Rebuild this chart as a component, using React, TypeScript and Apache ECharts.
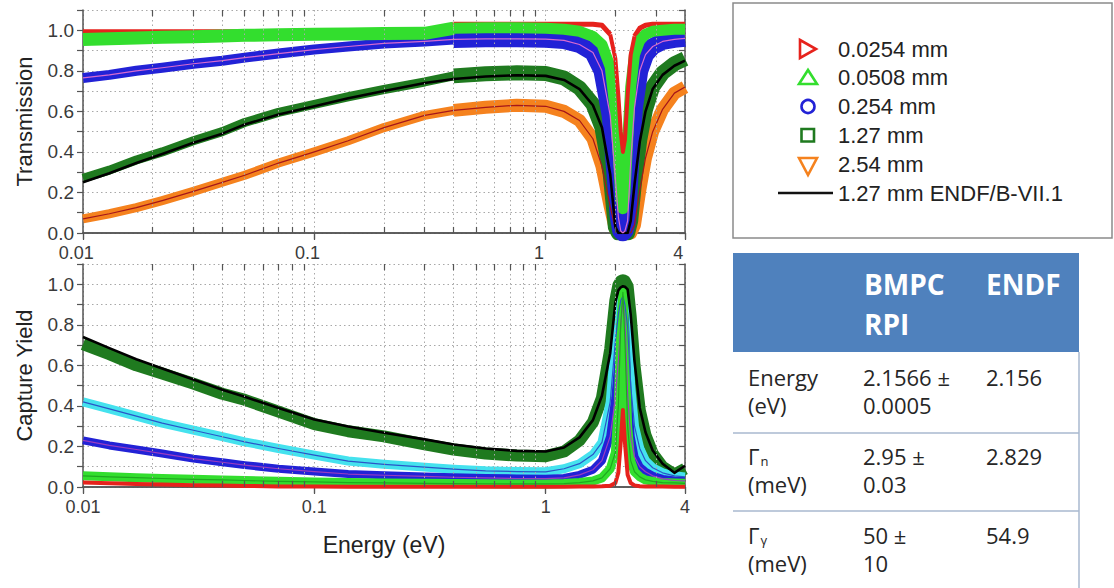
import React, { useEffect, useRef } from "react";
import * as echarts from "echarts";

// ---------- data ----------
const ENERGY = [0.01, 0.013, 0.017, 0.022, 0.03, 0.04, 0.05, 0.07, 0.1, 0.14, 0.2, 0.3, 0.4, 0.55, 0.75, 1.0, 1.2, 1.4, 1.6, 1.75, 1.9, 2.0, 2.06, 2.11, 2.156, 2.2, 2.26, 2.33, 2.42, 2.55, 2.7, 2.9, 3.2, 3.6, 4.0];

// Transmission
const T_0254 = [0.995, 0.995, 0.995, 0.995, 0.995, 0.995, 0.995, 0.995, 0.995, 0.995, 0.995, 0.995, 1.03, 1.03, 1.03, 1.03, 1.03, 1.03, 1.03, 1.025, 0.98, 0.86, 0.68, 0.5, 0.4, 0.46, 0.68, 0.88, 0.97, 1.01, 1.025, 1.03, 1.03, 1.03, 1.03];
const T_0508 = [0.955, 0.958, 0.962, 0.965, 0.968, 0.972, 0.975, 0.978, 0.98, 0.982, 0.984, 0.985, 1.01, 1.012, 1.012, 1.01, 1.005, 0.995, 0.97, 0.93, 0.82, 0.6, 0.38, 0.18, 0.12, 0.2, 0.45, 0.72, 0.88, 0.95, 0.98, 0.995, 1.0, 1.005, 1.005];
const T_254UM = [0.765, 0.78, 0.8, 0.815, 0.835, 0.85, 0.865, 0.885, 0.905, 0.92, 0.935, 0.945, 0.955, 0.958, 0.958, 0.956, 0.95, 0.93, 0.89, 0.8, 0.58, 0.27, 0.08, 0.01, 0.0, 0.01, 0.06, 0.35, 0.62, 0.8, 0.88, 0.92, 0.945, 0.955, 0.96];
const T_127 = [0.27, 0.31, 0.36, 0.4, 0.455, 0.5, 0.545, 0.595, 0.635, 0.672, 0.708, 0.745, 0.775, 0.785, 0.79, 0.787, 0.765, 0.715, 0.635, 0.52, 0.29, 0.03, 0, 0, 0, 0, 0, 0.06, 0.25, 0.46, 0.61, 0.72, 0.79, 0.835, 0.86];
const T_ENDF = [0.25, 0.295, 0.345, 0.39, 0.445, 0.49, 0.535, 0.585, 0.625, 0.665, 0.7, 0.74, 0.76, 0.772, 0.778, 0.775, 0.755, 0.71, 0.63, 0.52, 0.29, 0.03, 0, 0, 0, 0, 0, 0.06, 0.24, 0.45, 0.6, 0.71, 0.78, 0.825, 0.85];
const T_254 = [0.07, 0.095, 0.125, 0.16, 0.205, 0.25, 0.285, 0.345, 0.4, 0.455, 0.52, 0.58, 0.605, 0.62, 0.63, 0.625, 0.6, 0.555, 0.465, 0.33, 0.13, 0.02, 0, 0, 0, 0, 0, 0, 0.04, 0.21, 0.37, 0.5, 0.61, 0.69, 0.72];

// Capture yield
const Y_127 = [0.705, 0.655, 0.6, 0.56, 0.51, 0.46, 0.43, 0.372, 0.31, 0.275, 0.25, 0.21, 0.185, 0.165, 0.155, 0.152, 0.175, 0.23, 0.32, 0.44, 0.68, 0.92, 0.995, 1.015, 1.02, 1.015, 0.99, 0.84, 0.6, 0.38, 0.255, 0.165, 0.1, 0.062, 0.09];
const Y_ENDF = [0.74, 0.685, 0.63, 0.585, 0.53, 0.48, 0.445, 0.39, 0.333, 0.298, 0.268, 0.235, 0.21, 0.19, 0.178, 0.175, 0.195, 0.245, 0.33, 0.45, 0.66, 0.91, 0.97, 0.985, 0.99, 0.988, 0.975, 0.85, 0.62, 0.39, 0.27, 0.18, 0.115, 0.07, 0.105];
const Y_CYAN = [0.42, 0.385, 0.35, 0.315, 0.28, 0.248, 0.223, 0.19, 0.157, 0.128, 0.112, 0.098, 0.088, 0.08, 0.076, 0.075, 0.09, 0.115, 0.16, 0.22, 0.42, 0.72, 0.85, 0.92, 0.94, 0.9, 0.79, 0.5, 0.3, 0.19, 0.13, 0.095, 0.07, 0.055, 0.05];
const Y_254UM = [0.23, 0.205, 0.185, 0.165, 0.14, 0.122, 0.108, 0.09, 0.076, 0.064, 0.058, 0.052, 0.048, 0.045, 0.042, 0.041, 0.045, 0.06, 0.085, 0.13, 0.25, 0.44, 0.62, 0.8, 0.92, 0.82, 0.45, 0.25, 0.15, 0.1, 0.075, 0.055, 0.04, 0.032, 0.03];
const Y_0508 = [0.055, 0.05, 0.046, 0.042, 0.038, 0.035, 0.032, 0.028, 0.025, 0.022, 0.02, 0.018, 0.017, 0.016, 0.015, 0.015, 0.017, 0.022, 0.03, 0.045, 0.09, 0.17, 0.4, 0.8, 0.96, 0.72, 0.3, 0.13, 0.075, 0.05, 0.035, 0.028, 0.022, 0.02, 0.018];
const Y_0254 = [0.022, 0.018, 0.015, 0.012, 0.009, 0.007, 0.005, 0.003, 0.002, 0.001, 0.001, 0.001, 0.001, 0.001, 0.001, 0.001, 0.001, 0.002, 0.003, 0.004, 0.006, 0.02, 0.07, 0.22, 0.38, 0.22, 0.06, 0.02, 0.008, 0.004, 0.003, 0.002, 0.002, 0.001, 0.001];

const MINOR_E = [0.02, 0.03, 0.04, 0.05, 0.06, 0.07, 0.08, 0.09, 0.2, 0.3, 0.4, 0.5, 0.6, 0.7, 0.8, 0.9, 2, 3];

const LEGEND_LABELS = ["0.0254 mm", "0.0508 mm", "0.254 mm", "1.27 mm", "2.54 mm", "1.27 mm ENDF/B-VII.1"];
const TABLE_HEADER = ["BMPC", "RPI", "ENDF"];
const TABLE_ROWS = [
  { name: "Energy", unit: "(eV)", sub: "", v1: "2.1566 ±", v2: "0.0005", endf: "2.156" },
  { name: "Γ", unit: "(meV)", sub: "n", v1: "2.95 ±", v2: "0.03", endf: "2.829" },
  { name: "Γ", unit: "(meV)", sub: "γ", v1: "50 ±", v2: "10", endf: "54.9" },
];

// ---------- colours ----------
const C_RED = "#e6221c";
const C_GREEN = "#33de2e";
const C_BLUE = "#2222d6";
const C_DKGREEN = "#1f7a1f";
const C_ORANGE = "#f5821e";
const C_CYAN = "#45e2ee";
const AXIS = "#555555";
const FONT = "Liberation Sans, Arial, sans-serif";
const TFONT = "Open Sans, Noto Sans, sans-serif";

const I_SPLIT = ENERGY.indexOf(0.4);
const I_DIP_A = ENERGY.indexOf(1.9);
const I_DIP_B = ENERGY.indexOf(2.42);

function pts(vals: number[], from = 0, to = ENERGY.length - 1) {
  const out: [number, number][] = [];
  for (let i = from; i <= to; i++) out.push([ENERGY[i], vals[i]]);
  return out;
}

function band(vals: number[], color: string, width: number, gi: number, from?: number, to?: number, z = 3) {
  return {
    type: "line",
    xAxisIndex: gi * 2,
    yAxisIndex: gi * 2,
    data: pts(vals, from, to),
    symbol: "none",
    showSymbol: false,
    silent: true,
    clip: true,
    z,
    lineStyle: { color, width, cap: "butt", join: "round" },
  };
}

function decor(gi: number) {
  const tickStyle = { type: "solid", color: AXIS, width: 1.2 };
  return {
    type: "line",
    xAxisIndex: gi * 2,
    yAxisIndex: gi * 2,
    data: [],
    silent: true,
    z: 1,
    markLine: {
      silent: true,
      symbol: ["none", "none"],
      label: { show: false },
      lineStyle: { color: "#a8a8a8", type: [1.5, 3], width: 1 },
      data: [
        ...MINOR_E.map((e) => ({ xAxis: e })),
        ...MINOR_E.map((e) => [{ coord: [e, 0], lineStyle: tickStyle }, { coord: [e, 0.03] }]),
        ...MINOR_E.map((e) => [{ coord: [e, 1.1], lineStyle: tickStyle }, { coord: [e, 1.07] }]),
      ],
    },
  };
}

function fmtE(v: number) {
  return String(parseFloat(Number(v).toPrecision(4)));
}
function fmtEShift(v: number) {
  // figure space + thin space: nudges the centred label slightly left, as in the source
  return fmtE(v) + "\u2007\u2009";
}
function fmtY(v: number) {
  const k = Math.round(v * 10);
  return k % 2 === 0 && k <= 10 ? (k / 10).toFixed(1) : "";
}

function xAxes(gi: number, withName: boolean, shift: boolean) {
  return [
    {
      type: "log",
      gridIndex: gi,
      min: 0.01,
      max: 4,
      logBase: 10,
      position: "bottom",
      axisLine: { show: true, lineStyle: { color: AXIS, width: 1.5 } },
      axisTick: { show: true, inside: false, length: 7, lineStyle: { color: AXIS, width: 1.2 } },
      axisLabel: {
        fontSize: 18,
        color: "#3a3a3a",
        fontFamily: FONT,
        margin: 11,
        formatter: shift ? fmtEShift : fmtE,
      },
      splitLine: { show: true, lineStyle: { color: "#a8a8a8", type: [1.5, 3], width: 1 } },
      name: withName ? "Energy (eV)" : "",
      nameLocation: "middle",
      nameGap: 46,
      nameTextStyle: { fontSize: 23, color: "#222", fontFamily: FONT },
    },
    {
      type: "log",
      gridIndex: gi,
      min: 0.01,
      max: 4,
      logBase: 10,
      position: "top",
      axisLine: { show: true, lineStyle: { color: AXIS, width: 1.5 } },
      axisTick: { show: true, inside: true, length: 6, lineStyle: { color: AXIS, width: 1.2 } },
      axisLabel: { show: false },
      splitLine: { show: false },
    },
  ];
}

function yAxes(gi: number, name: string) {
  return [
    {
      type: "value",
      gridIndex: gi,
      min: 0,
      max: 1.1,
      interval: 0.1,
      position: "left",
      axisLine: { show: true, lineStyle: { color: AXIS, width: 1.5 } },
      axisTick: { show: true, inside: false, length: 6, lineStyle: { color: AXIS, width: 1.2 } },
      axisLabel: { fontSize: 19, color: "#3a3a3a", fontFamily: FONT, margin: 9, formatter: fmtY },
      splitLine: { show: true, lineStyle: { color: "#a8a8a8", type: [1.5, 3], width: 1 } },
      name,
      nameLocation: "middle",
      nameRotate: 90,
      nameGap: 48,
      nameTextStyle: { fontSize: 22, color: "#222", fontFamily: FONT },
    },
    {
      type: "value",
      gridIndex: gi,
      min: 0,
      max: 1.1,
      interval: 0.1,
      position: "right",
      axisLine: { show: true, lineStyle: { color: AXIS, width: 1.5 } },
      axisTick: { show: true, inside: true, length: 6, lineStyle: { color: AXIS, width: 1.2 } },
      axisLabel: { show: false },
      splitLine: { show: false },
    },
  ];
}

function fit(vals: number[], color: string, width: number, gi: number) {
  return band(vals, color, width, gi, 0, ENERGY.length - 1, 4);
}

function buildGraphic() {
  const els: any[] = [];
  // legend box
  els.push({ type: "rect", shape: { x: 733, y: 3, width: 379, height: 235 }, style: { fill: "#fff", stroke: "#8a8a8a", lineWidth: 1.5 } });
  const rows = [49, 77, 106, 135, 164, 193];
  const mk = { fill: "none", lineWidth: 2.6 };
  els.push({ type: "polygon", shape: { points: [[800, 40], [816, 49], [800, 58]] }, style: { ...mk, stroke: C_RED } });
  els.push({ type: "polygon", shape: { points: [[799, 84], [808, 70], [817, 84]] }, style: { ...mk, stroke: C_GREEN } });
  els.push({ type: "circle", shape: { cx: 808, cy: 106.5, r: 6.5 }, style: { ...mk, stroke: C_BLUE } });
  els.push({ type: "rect", shape: { x: 801.5, y: 129, width: 12.5, height: 12.5 }, style: { ...mk, stroke: C_DKGREEN } });
  els.push({ type: "polygon", shape: { points: [[799, 158], [817, 158], [808, 175]] }, style: { ...mk, stroke: C_ORANGE } });
  els.push({ type: "line", shape: { x1: 778, y1: 193, x2: 833, y2: 193 }, style: { stroke: "#111", lineWidth: 2.5 } });
  LEGEND_LABELS.forEach((t, i) => {
    els.push({
      type: "text",
      x: 838,
      y: rows[i],
      style: { text: t, fontSize: 22, fontFamily: FONT, fill: "#222", align: "left", verticalAlign: "middle" },
    });
  });

  // table
  els.push({ type: "rect", shape: { x: 733, y: 253, width: 346, height: 99 }, style: { fill: "#4f81bd" } });
  const hdr = { fontSize: 28, fontWeight: "bold", fontFamily: TFONT, fill: "#ffffff", align: "left", verticalAlign: "middle" };
  els.push({ type: "text", x: 864, y: 284, style: { ...hdr, text: TABLE_HEADER[0] } });
  els.push({ type: "text", x: 864, y: 324, style: { ...hdr, text: TABLE_HEADER[1] } });
  els.push({ type: "text", x: 986, y: 284, style: { ...hdr, text: TABLE_HEADER[2] } });
  const lineC = "#a9b9cf";
  [433, 511].forEach((y) => els.push({ type: "line", shape: { x1: 733, y1: y, x2: 1079, y2: y }, style: { stroke: lineC, lineWidth: 1.5 } }));
  els.push({ type: "line", shape: { x1: 1079, y1: 352, x2: 1079, y2: 588 }, style: { stroke: lineC, lineWidth: 1.5 } });
  const body = { fontSize: 22, fontFamily: TFONT, fill: "#262626", align: "left", verticalAlign: "middle" };
  const rowY = [377, 456, 535];
  TABLE_ROWS.forEach((r, i) => {
    const y1 = rowY[i];
    const y2 = y1 + 28;
    if (r.sub) {
      els.push({
        type: "text",
        x: 748,
        y: y1,
        style: {
          ...body,
          text: "{g|" + r.name + "}{s|" + r.sub + "}",
          rich: {
            g: { fontSize: 22, fontFamily: TFONT, fill: "#262626" },
            s: { fontSize: 13, fontFamily: TFONT, fill: "#262626", verticalAlign: "bottom", padding: [0, 0, 0, 1] },
          },
        },
      });
    } else {
      els.push({ type: "text", x: 748, y: y1, style: { ...body, text: r.name } });
    }
    els.push({ type: "text", x: 748, y: y2, style: { ...body, text: r.unit } });
    els.push({ type: "text", x: 863, y: y1, style: { ...body, text: r.v1 } });
    els.push({ type: "text", x: 863, y: y2, style: { ...body, text: r.v2 } });
    els.push({ type: "text", x: 986, y: y1, style: { ...body, text: r.endf } });
  });
  return els;
}

function buildOption() {
  const last = ENERGY.length - 1;
  const series: any[] = [
    decor(0),
    decor(1),
    // ---- transmission ----
    band(T_254, C_ORANGE, 9, 0, 0, I_SPLIT),
    band(T_254, C_ORANGE, 13, 0, I_SPLIT, last),
    fit(T_254, "#a5161a", 1.2, 0),
    band(T_127, C_DKGREEN, 9, 0, 0, I_SPLIT),
    band(T_127, C_DKGREEN, 15, 0, I_SPLIT, last),
    fit(T_ENDF, "#000000", 2.6, 0),
    band(T_254UM, C_BLUE, 10, 0, 0, I_SPLIT),
    band(T_254UM, C_BLUE, 17, 0, I_SPLIT, last),
    fit(T_254UM, "#d86ad0", 1.2, 0),
    band(T_0254, C_RED, 4, 0, 0, I_SPLIT),
    band(T_0254, C_RED, 5, 0, I_SPLIT, I_DIP_A),
    band(T_0254, C_RED, 5, 0, I_DIP_B, last),
    band(T_0508, C_GREEN, 13, 0, 0, I_SPLIT),
    band(T_0508, C_GREEN, 11, 0, I_SPLIT, last),
    band(T_0254, C_RED, 4, 0, I_DIP_A, I_DIP_B),
    // ---- capture yield ----
    band(Y_127, C_DKGREEN, 12, 1),
    fit(Y_ENDF, "#000000", 2.6, 1),
    band(Y_CYAN, C_CYAN, 9, 1),
    fit(Y_CYAN, "#2a55c8", 1.2, 1),
    band(Y_254UM, C_BLUE, 8, 1),
    fit(Y_254UM, "#9a3cc0", 1.2, 1),
    band(Y_0508, C_GREEN, 9, 1),
    fit(Y_0508, "#1fa81f", 1.2, 1),
    band(Y_0254, C_RED, 4, 1),
  ];
  return {
    animation: false,
    backgroundColor: "#ffffff",
    grid: [
      { left: 83, top: 10, width: 602, height: 223 },
      { left: 83, top: 264, width: 602, height: 223 },
    ],
    xAxis: [...xAxes(0, false, true), ...xAxes(1, true, false)],
    yAxis: [...yAxes(0, "Transmission"), ...yAxes(1, "Capture Yield")],
    series,
    graphic: buildGraphic(),
  };
}

export default function App() {
  const ref = useRef<HTMLDivElement>(null);
  useEffect(() => {
    document.body.style.margin = "0";
    const chart = echarts.init(ref.current as HTMLDivElement, undefined, { renderer: "svg" });
    chart.setOption(buildOption() as any);
    return () => chart.dispose();
  }, []);
  return <div ref={ref} style={{ width: 1114, height: 588 }} />;
}
